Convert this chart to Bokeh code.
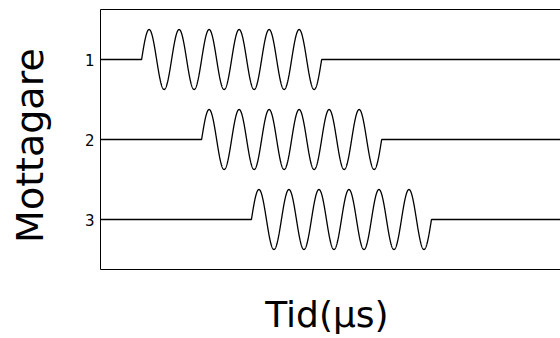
import numpy as np
from bokeh.plotting import figure
from bokeh.models import Range1d, FixedTicker, LinearAxis
from bokeh.embed import file_html
from bokeh.resources import INLINE

# Data
receivers = [1, 2, 3]
receiver_labels = ["1", "2", "3"]
start_us = [1.37, 3.37, 5.03]      # pulse arrival time at each receiver (µs)
cycles = 6                          # cycles in each pulse
freq_mhz = 1.0                      # pulse frequency (MHz)
amplitude = 0.375                   # pulse amplitude (receiver spacing = 1)
t_max = 15.33
x_title = "Tid(µs)"
y_title = "Mottagare"

FONT = "DejaVu Sans"

p = figure(width=560, height=338, output_backend="svg", toolbar_location=None,
           x_range=Range1d(0, t_max), y_range=Range1d(3.625, 0.375),
           min_border_left=100, min_border_right=0, min_border_top=9,
           min_border_bottom=69, x_axis_location="below")
p.outline_line_color = None
p.grid.visible = False
p.background_fill_color = "white"
p.border_fill_color = "white"

t = np.linspace(0, t_max, 4000)
for rec, t0 in zip(receivers, start_us):
    t1 = t0 + cycles / freq_mhz
    inside = (t >= t0) & (t <= t1)
    y = np.where(inside, -amplitude * np.sin(2 * np.pi * freq_mhz * (t - t0)), 0.0)
    tt = np.concatenate([t, [t0, t1]])
    yy = np.concatenate([y, [0.0, 0.0]])
    order = np.argsort(tt, kind="stable")
    p.line(tt[order], rec + yy[order], line_color="black", line_width=1.3)

# Left axis
ya = p.yaxis[0]
ya.ticker = FixedTicker(ticks=receivers)
ya.major_label_overrides = {r: l for r, l in zip(receivers, receiver_labels)}
ya.major_tick_line_color = None
ya.minor_tick_line_color = None
ya.major_label_standoff = 0
ya.major_label_text_font = FONT
ya.major_label_text_font_size = "15px"
ya.major_label_text_color = "black"
ya.axis_line_color = "black"
ya.axis_label = y_title + " "
ya.axis_label_text_font = FONT
ya.axis_label_text_font_size = "38px"
ya.axis_label_text_font_style = "normal"
ya.axis_label_text_color = "black"
ya.axis_label_standoff = 30

# Bottom axis
xa = p.xaxis[0]
xa.ticker = FixedTicker(ticks=[])
xa.major_tick_line_color = None
xa.minor_tick_line_color = None
xa.major_label_text_font_size = "0px"
xa.axis_line_color = "black"
xa.axis_label = x_title + "\u2009"
xa.axis_label_text_font = FONT
xa.axis_label_text_font_size = "36px"
xa.axis_label_text_font_style = "normal"
xa.axis_label_text_color = "black"
xa.axis_label_standoff = 24

# Top line
top = LinearAxis(ticker=FixedTicker(ticks=[]), major_label_text_font_size="0px",
                 major_tick_line_color=None, minor_tick_line_color=None,
                 axis_line_color="black")
p.add_layout(top, "above")

open("out.html", "w").write(file_html(p, INLINE))
